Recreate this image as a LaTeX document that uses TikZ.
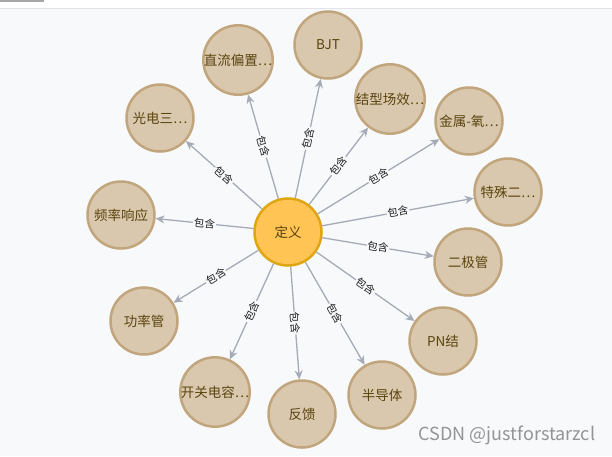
\documentclass[tikz,border=0pt]{standalone}
\usepackage{fontspec}
\usepackage{xcolor}
\usepackage{tikz}
\usetikzlibrary{arrows.meta, positioning, calc}

\newfontfamily\cjk{Noto Sans CJK SC}

\definecolor{bgcol}{HTML}{F8F9FB}
\definecolor{topline}{HTML}{E1E4E9}
\definecolor{nodefill}{HTML}{D9C8AE}
\definecolor{nodeborder}{HTML}{C1A57C}
\definecolor{nodetext}{HTML}{5A440E}
\definecolor{rootfill}{HTML}{FFC454}
\definecolor{rootborder}{HTML}{DFA611}
\definecolor{edgecol}{HTML}{A5ABB6}

\begin{document}
\begin{tikzpicture}[
    x=1pt, y=-1pt,
    concept/.style={circle, draw=nodeborder, fill=nodefill, line width=2.5pt, minimum size=67pt, inner sep=0pt, align=center, text=nodetext, font=\cjk\fontsize{13.5}{15}\selectfont},
    root/.style={concept, draw=rootborder, fill=rootfill},
    rel/.style={-{Stealth[length=9pt, width=8pt]}, draw=edgecol, line width=1.3pt},
    tag/.style={midway, sloped, fill=bgcol, inner sep=1pt, text=black!90, font=\cjk\fontsize{10.5}{12}\selectfont}
]

% Canvas
\useasboundingbox (0,0) rectangle (612,456);
\fill[bgcol] (0,8) rectangle (612,456);
\fill[white] (0,0) rectangle (612,8);
\draw[topline, line width=1pt] (0,8) -- (612,8);
\fill[black!35] (0,0) rectangle (44,1.5);

% Centre
\node[root] (def) at (288,232) {定义};

% Outer concepts
\node[concept] (bjt) at (328,45) {BJT};
\node[concept] (bias) at (238,60) {直流偏置…};
\node[concept] (photo) at (160,118) {光电三…};
\node[concept] (jfet) at (390,99) {结型场效…};
\node[concept] (mos) at (469,121) {金属-氧…};
\node[concept] (zener) at (508,192) {特殊二…};
\node[concept] (diode) at (468,262) {二极管};
\node[concept] (pn) at (443,341) {PN结};
\node[concept] (semi) at (382,395) {半导体};
\node[concept] (fb) at (302,414) {反馈};
\node[concept] (swcap) at (215,392) {开关电容…};
\node[concept] (power) at (144,321) {功率管};
\node[concept] (freq) at (121,215) {频率响应};

% Relations
\draw[rel] (def) -- node[tag] {包含} (bjt);
\draw[rel] (def) -- node[tag] {包含} (bias);
\draw[rel] (def) -- node[tag] {包含} (photo);
\draw[rel] (def) -- node[tag] {包含} (jfet);
\draw[rel] (def) -- node[tag] {包含} (mos);
\draw[rel] (def) -- node[tag] {包含} (zener);
\draw[rel] (def) -- node[tag] {包含} (diode);
\draw[rel] (def) -- node[tag] {包含} (pn);
\draw[rel] (def) -- node[tag] {包含} (semi);
\draw[rel] (def) -- node[tag] {包含} (fb);
\draw[rel] (def) -- node[tag] {包含} (swcap);
\draw[rel] (def) -- node[tag] {包含} (power);
\draw[rel] (def) -- node[tag] {包含} (freq);

% Watermark
\node[text=black!42, font=\cjk\fontsize{18}{20}\selectfont] (mark) at (507,435) {CSDN @justforstarzcl};

\end{tikzpicture}
\end{document}
